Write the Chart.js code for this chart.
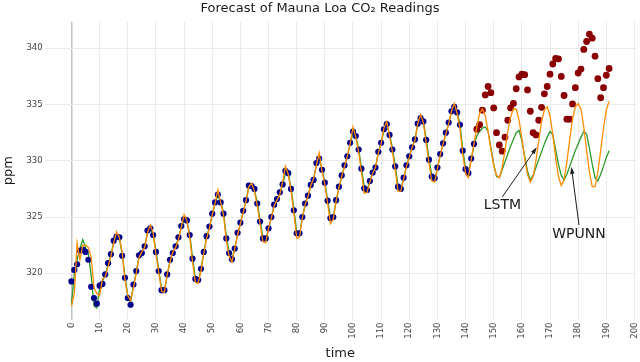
<!DOCTYPE html>
<html>
<head>
<meta charset="utf-8">
<script src="https://cdn.jsdelivr.net/npm/chart.js@4.4.0/dist/chart.umd.min.js"></script>
<style>
  html, body { margin: 0; padding: 0; background: #fff; }
  #wrap { width: 640px; height: 362px; position: relative; }
</style>
</head>
<body>
<div id="wrap"><canvas id="co2Chart"></canvas></div>
<script>
// monthly readings (ppm), one row per year; first 144 = training, rest = held out
const observed = [
  319.27, 320.30, 320.80, 322.00, 322.10, 321.90, 321.20, 318.80, 317.80, 317.30, 318.90, 319.05,
  319.90, 320.90, 321.70, 322.90, 323.25, 323.20, 321.55, 319.60, 317.80, 317.20, 319.00, 320.20,
  321.60, 321.80, 322.40, 323.80, 324.00, 323.40, 321.90, 320.20, 318.50, 318.50, 319.90, 321.20,
  321.80, 322.40, 323.20, 324.20, 324.80, 324.70, 323.40, 321.30, 319.50, 319.40, 320.40, 321.90,
  323.30, 324.15, 325.30, 326.30, 327.00, 326.30, 325.30, 323.10, 321.80, 321.25, 322.20, 323.60,
  324.50, 325.55, 326.50, 327.80, 327.75, 327.50, 326.20, 324.60, 323.10, 323.10, 324.00, 325.00,
  326.10, 326.60, 327.20, 327.90, 329.10, 328.90, 327.50, 325.60, 323.55, 323.55, 325.00, 326.20,
  326.90, 327.85, 328.30, 329.80, 330.20, 329.20, 328.05, 326.45, 324.90, 325.00, 326.50, 327.70,
  328.70, 329.60, 330.40, 331.60, 332.60, 332.20, 331.00, 329.30, 327.55, 327.40, 328.20, 328.95,
  329.40, 330.80, 331.60, 332.80, 333.25, 332.30, 331.00, 329.50, 327.70, 327.50, 328.50, 329.60,
  330.40, 331.20, 331.90, 333.30, 333.80, 333.50, 331.85, 330.10, 328.60, 328.45, 329.40, 330.60,
  331.55, 332.50, 333.40, 334.40, 334.80, 334.30, 333.20, 330.90, 329.25, 328.90, 330.20, 331.50,
  332.80, 333.20, 334.50, 335.85, 336.60, 336.05, 334.70, 332.50, 331.40, 330.85, 332.10, 333.60,
  334.70, 335.10, 336.40, 337.45, 337.70, 337.65, 336.30, 334.40, 332.50, 332.30, 333.60, 334.75,
  335.95, 336.60, 337.70, 338.60, 339.10, 339.05, 337.50, 335.80, 333.70, 333.70, 335.05, 336.50,
  337.80, 338.15, 339.90, 340.60, 341.25, 340.90, 339.30, 337.30, 335.60, 336.50, 337.60, 338.20
];
const trainCount = 144;

const lstmPred = [
  317.10, 318.20, 322.70, 321.20, 322.50, 322.50, 322.30, 321.40, 318.70, 318.20, 318.00, 319.50,
  319.70, 320.60, 321.50, 322.70, 323.70, 323.20, 321.90, 319.40, 318.00, 317.60, 318.70, 320.00,
  321.40, 321.90, 322.30, 323.60, 324.30, 323.60, 321.70, 320.10, 318.40, 318.30, 319.90, 321.00,
  321.90, 322.30, 323.00, 324.10, 325.20, 324.70, 323.20, 321.00, 319.20, 319.10, 320.20, 321.80,
  323.10, 324.00, 325.20, 326.20, 327.40, 326.30, 325.20, 322.90, 321.50, 321.00, 322.20, 323.40,
  324.40, 325.40, 326.40, 327.70, 328.00, 327.30, 326.00, 324.40, 322.80, 322.70, 324.00, 324.90,
  326.00, 326.50, 327.00, 328.10, 329.50, 328.80, 327.30, 325.40, 323.10, 323.20, 324.90, 326.10,
  326.80, 327.80, 328.40, 329.60, 330.70, 329.10, 327.90, 326.20, 324.40, 324.80, 326.40, 327.60,
  328.60, 329.50, 330.40, 331.50, 333.00, 332.10, 330.80, 329.00, 327.10, 327.20, 328.10, 328.90,
  329.40, 330.70, 331.50, 332.90, 333.50, 332.20, 330.80, 329.20, 327.30, 327.30, 328.40, 329.50,
  330.30, 331.20, 331.80, 333.30, 334.10, 333.40, 331.60, 329.80, 328.20, 328.10, 329.30, 330.50,
  331.50, 332.40, 333.30, 334.40, 335.10, 334.20, 332.90, 330.60, 328.90, 328.50, 330.10, 331.50,
  333.00, 334.20, 334.60, 334.00, 332.60, 331.00, 329.60, 328.70, 328.50, 329.40, 330.90, 332.60,
  333.90, 334.60, 334.60, 333.60, 332.00, 330.20, 328.80, 328.10, 328.60, 330.00, 331.80, 333.50,
  334.50, 334.80, 334.00, 332.30, 330.30, 328.60, 327.80, 328.30, 329.90, 331.90, 333.70, 334.80,
  335.10, 334.60, 333.00, 330.90, 329.00, 327.70, 327.70, 329.00, 330.90, 332.90, 334.50, 335.30
];

const wpunnPred = [
  317.30, 319.90, 321.20, 322.20, 323.00, 322.30, 321.70, 319.80, 317.10, 316.90, 318.70, 319.30,
  319.80, 320.80, 321.60, 322.80, 323.30, 323.10, 321.70, 319.70, 318.00, 317.40, 318.90, 320.10,
  321.50, 321.90, 322.40, 323.60, 323.90, 323.50, 322.00, 320.30, 318.60, 318.40, 319.80, 321.10,
  321.90, 322.40, 323.10, 324.10, 324.70, 324.60, 323.50, 321.40, 319.60, 319.30, 320.30, 321.80,
  323.20, 324.10, 325.20, 326.20, 326.90, 326.40, 325.40, 323.30, 321.90, 321.30, 322.10, 323.50,
  324.40, 325.50, 326.40, 327.70, 327.80, 327.40, 326.30, 324.70, 323.20, 323.00, 323.90, 325.00,
  326.00, 326.50, 327.10, 327.90, 328.90, 328.80, 327.60, 325.70, 323.70, 323.50, 324.90, 326.10,
  326.90, 327.80, 328.40, 329.60, 330.10, 329.30, 328.10, 326.50, 325.00, 325.00, 326.40, 327.60,
  328.60, 329.50, 330.40, 331.50, 332.50, 332.20, 331.10, 329.40, 327.70, 327.40, 328.20, 328.90,
  329.40, 330.70, 331.60, 332.70, 333.20, 332.40, 331.10, 329.60, 327.80, 327.50, 328.40, 329.50,
  330.40, 331.20, 331.90, 333.20, 333.70, 333.50, 332.00, 330.20, 328.70, 328.40, 329.30, 330.50,
  331.50, 332.40, 333.30, 334.30, 334.70, 334.30, 333.30, 331.00, 329.30, 328.90, 330.10, 331.40,
  332.20, 332.60, 332.90, 333.00, 332.60, 331.20, 329.70, 328.60, 328.50, 329.20, 329.90, 330.60,
  331.30, 331.90, 332.50, 332.70, 331.80, 330.40, 329.10, 328.30, 328.70, 329.40, 330.10, 330.80,
  331.50, 332.10, 332.60, 332.30, 331.00, 329.70, 328.70, 328.30, 328.80, 329.50, 330.20, 330.90,
  331.50, 332.10, 332.60, 332.40, 331.10, 329.70, 328.50, 328.20, 328.80, 329.50, 330.30, 330.90
];

const xTickValues = [0, 10, 20, 30, 40, 50, 60, 70, 80, 90, 100, 110, 120, 130, 140, 150, 160, 170, 180, 190, 200];
const yTickValues = [320, 325, 330, 335, 340];

// callouts in data units: text centre and arrow tip
const callouts = [
  { label: 'LSTM', at: [153.1, 326.0], tip: [165.3, 331.2] },
  { label: 'WPUNN', at: [180.3, 323.5], tip: [177.6, 329.45] }
];

const toPoints = (arr, from, to) => arr.slice(from, to).map((v, i) => ({ x: from + i, y: v }));

const overlay = {
  id: 'overlay',
  afterDraw(chart) {
    const { ctx, chartArea: area } = chart;
    const xs = chart.scales.x, ys = chart.scales.y;
    ctx.save();
    ctx.fillStyle = '#1a1a1a';
    ctx.textAlign = 'center';
    ctx.textBaseline = 'middle';
    ctx.font = '13px "DejaVu Sans"';
    ctx.fillText('Forecast of Mauna Loa CO\u2082 Readings', chart.width / 2, 9);
    ctx.fillText('time', (area.left + area.right) / 2, 354);
    ctx.save();
    ctx.translate(9, (area.top + area.bottom) / 2);
    ctx.rotate(-Math.PI / 2);
    ctx.fillText('ppm', 0, 0);
    ctx.restore();

    ctx.font = '14px "DejaVu Sans"';
    ctx.strokeStyle = '#1a1a1a';
    ctx.lineWidth = 1;
    callouts.forEach(c => {
      const tx = xs.getPixelForValue(c.at[0]);
      const ty = ys.getPixelForValue(c.at[1]);
      ctx.fillText(c.label, tx, ty);
      const sx = tx, sy = ty - 9;
      const ex = xs.getPixelForValue(c.tip[0]);
      const ey = ys.getPixelForValue(c.tip[1]);
      const ang = Math.atan2(ey - sy, ex - sx);
      const head = 7;
      ctx.beginPath();
      ctx.moveTo(sx, sy);
      ctx.lineTo(ex - head * Math.cos(ang), ey - head * Math.sin(ang));
      ctx.stroke();
      ctx.beginPath();
      ctx.moveTo(ex, ey);
      ctx.lineTo(ex - head * Math.cos(ang) + 2.2 * Math.sin(ang), ey - head * Math.sin(ang) - 2.2 * Math.cos(ang));
      ctx.lineTo(ex - head * Math.cos(ang) - 2.2 * Math.sin(ang), ey - head * Math.sin(ang) + 2.2 * Math.cos(ang));
      ctx.closePath();
      ctx.fill();
    });
    ctx.restore();
  }
};

const gridColor = c => (c.tick && c.tick.value === 0 ? '#c2c2c2' : '#ebebeb');
const gridWidth = c => (c.tick && c.tick.value === 0 ? 1.5 : 1);

new Chart(document.getElementById('co2Chart'), {
  type: 'line',
  data: {
    datasets: [
      {
        label: 'LSTM',
        data: toPoints(lstmPred, 0, lstmPred.length),
        borderColor: '#ff8c00',
        borderWidth: 1.3,
        pointRadius: 0,
        tension: 0,
        order: 0
      },
      {
        label: 'train',
        data: toPoints(observed, 0, trainCount),
        showLine: false,
        pointRadius: 3.1,
        pointBackgroundColor: '#00008b',
        pointBorderWidth: 0,
        order: 1
      },
      {
        label: 'test',
        data: toPoints(observed, trainCount, observed.length),
        showLine: false,
        pointRadius: 3.4,
        pointBackgroundColor: '#8b0000',
        pointBorderWidth: 0,
        order: 1
      },
      {
        label: 'WPUNN',
        data: toPoints(wpunnPred, 0, wpunnPred.length),
        borderColor: '#2a9a2a',
        borderWidth: 1.3,
        pointRadius: 0,
        tension: 0,
        order: 2
      }
    ]
  },
  options: {
    responsive: true,
    maintainAspectRatio: false,
    animation: false,
    layout: { padding: { top: 21.7, right: 0, left: 0, bottom: 0 } },
    plugins: {
      legend: { display: false },
      tooltip: { enabled: false },
      title: { display: false }
    },
    scales: {
      x: {
        type: 'linear',
        min: -9.55,
        max: 200.55,
        border: { display: false },
        grid: { color: gridColor, lineWidth: gridWidth, drawTicks: false },
        ticks: {
          autoSkip: false,
          minRotation: 90,
          maxRotation: 90,
          padding: 3,
          color: '#444',
          font: { family: 'DejaVu Sans', size: 8.5 }
        },
        afterBuildTicks: s => { s.ticks = xTickValues.map(v => ({ value: v })); },
        afterFit: s => { s.height = 42.5; s.paddingLeft = 0; s.paddingRight = 0; }
      },
      y: {
        min: 315.89,
        max: 342.36,
        border: { display: false },
        grid: { color: '#ebebeb', drawTicks: false },
        ticks: {
          padding: 2,
          color: '#444',
          font: { family: 'DejaVu Sans', size: 8.5 }
        },
        afterBuildTicks: s => { s.ticks = yTickValues.map(v => ({ value: v })); },
        afterFit: s => { s.width = 44.6; s.paddingTop = 0; s.paddingBottom = 0; }
      }
    }
  },
  plugins: [overlay]
});
</script>
</body>
</html>
